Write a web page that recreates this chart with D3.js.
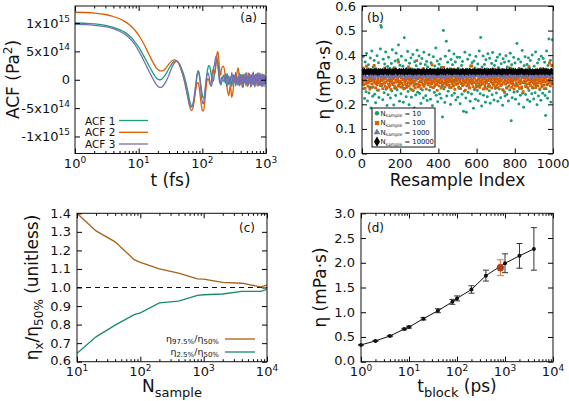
<!DOCTYPE html>
<html><head><meta charset="utf-8">
<script src="https://cdn.jsdelivr.net/npm/d3@7"></script>
<style>body{margin:0;background:#fff}svg{display:block}text{font-family:"DejaVu Sans",sans-serif;fill:#111}</style>
</head><body><svg width="569" height="401"></svg>
<script>
// ---------- Panel (a): ACF (units of 1e14 Pa^2) ----------
const acfT = [1,1.5,2,3,4,5,6,7,8,9,10,11,12,13,14,15,16,17,18,19,20,21,22,23,24,26,28,30,32,34,36,38,40,42,44,46,48,50,
53,56,59,62,65,68,71,74,77,80,83,86,89,92,95,98,101,104,107,110,114,118,122,126,130,134,138,142,146,150,155,160,165,170,175,180,185,190,195,200,
215,230,245,260,275,290,305,320,335,350,365,380,395,410,425,440,455,470,485,500,515,530,545,560,575,590,605,620,635,650,665,680,695,710,725,740,755,770,785,800,815,830,845,860,875,890,905,920,935,950,965,980,995];
const acf1 = [10.0,9.95,9.85,9.6,9.25,8.85,8.4,7.85,7.2,6.45,5.75,5.0,4.2,3.5,2.8,2.15,1.6,1.1,0.65,0.3,0.1,0.0,0.0,0.1,0.3,0.8,1.4,2.0,2.55,2.95,3.2,3.3,3.25,3.05,2.7,2.25,1.75,1.2,
0.3,-0.8,-2.0,-3.2,-4.2,-4.7,-4.5,-3.6,-2.2,-0.6,0.9,1.6,1.2,0.2,-1.0,-2.1,-2.9,-3.2,-3.1,-2.3,-0.6,1.0,2.0,2.5,2.4,1.8,0.9,0.1,-0.3,-0.1,0.9,2.2,3.2,3.6,3.2,2.0,0.6,-0.5,-0.9,-0.6,
0.8,-0.6,1.1,-0.9,0.5,-1.2,0.9,-0.4,1.3,-0.8,0.6,-1.1,1.0,-0.5,0.9,-1.3,0.7,-0.6,1.2,-0.9,0.4,-1.0,1.1,-0.7,0.8,-1.2,0.5,-0.6,1.4,-0.8,0.7,-1.0,0.9,-0.3,1.1,-1.1,0.6,-0.7,1.2,-0.9,0.3,-1.0,0.8,-0.5,1.0,-1.2,0.7,-0.4,0.9,-0.8,0.5,-0.6,0.2];
const acf2 = [11.9,11.85,11.75,11.5,11.15,10.75,10.3,9.8,9.2,8.55,7.85,7.1,6.35,5.6,4.85,4.15,3.5,2.95,2.45,2.05,1.8,1.65,1.55,1.55,1.6,1.9,2.35,2.8,3.15,3.4,3.5,3.45,3.3,3.0,2.5,1.9,1.3,0.6,
-0.5,-1.8,-3.1,-4.3,-5.1,-5.4,-5.0,-3.9,-2.5,-1.3,-0.6,-0.5,-1.2,-2.5,-3.9,-5.0,-5.5,-5.5,-4.8,-3.5,-1.6,-0.3,0.2,0.0,-0.6,-0.9,-0.4,0.8,1.7,1.8,1.0,1.5,3.2,4.6,5.0,4.0,2.2,0.8,0.9,2.0,
2.4,0.6,-1.5,-2.8,-1.0,-3.1,-1.8,0.5,-0.7,1.2,2.1,0.8,-0.9,0.6,-1.2,1.0,-0.5,0.9,-1.1,0.4,-0.8,1.2,-0.6,0.7,-1.3,0.9,-0.4,1.1,-0.9,0.5,-0.7,1.0,-1.1,0.6,-0.5,1.2,-0.8,0.3,-1.0,0.9,-0.6,0.8,-1.2,0.4,-0.5,1.0,-0.9,0.7,-0.3,0.6,-0.8,0.4,-0.1];
const acf3 = [9.75,9.7,9.6,9.35,9.0,8.55,8.05,7.45,6.75,5.95,5.1,4.25,3.4,2.6,1.85,1.2,0.6,0.05,-0.45,-0.85,-1.15,-1.3,-1.35,-1.3,-1.1,-0.6,0.1,0.9,1.7,2.4,2.9,3.2,3.25,3.0,2.6,2.0,1.4,0.7,
-0.4,-1.6,-2.9,-4.0,-4.7,-4.8,-4.3,-3.2,-1.7,-0.2,1.0,1.5,1.0,-0.3,-1.9,-3.3,-4.1,-4.2,-3.4,-2.0,-0.3,0.8,1.2,0.9,0.0,-0.8,-1.2,-0.7,0.6,2.0,2.6,3.7,4.2,3.8,2.5,1.0,-0.2,-0.6,-0.2,0.5,
-0.3,1.0,-1.2,0.7,-0.9,1.3,-0.6,0.8,-1.1,0.5,-1.0,1.2,-0.7,0.9,-1.4,0.6,-0.5,1.1,-0.8,1.3,-1.2,0.7,-0.6,1.0,-1.0,0.4,-0.9,1.2,-0.5,0.8,-1.3,0.9,-0.4,1.0,-0.8,0.6,-1.1,1.2,-0.6,0.5,-0.9,1.1,-0.7,0.8,-1.0,0.6,-0.5,0.9,-1.2,0.7,-0.4,0.5,0.1];
const acfNames = ["ACF 1","ACF 2","ACF 3"];
const acfColors = ["#1b9e77","#d95f02","#7570b3"];

// ---------- Panel (b): resampled viscosity (mPa·s x 1000) ----------
const etaN10 = `342 281 395 263 318 224 372 296 251 407 336 214 289 361 246 330 270 388 185 305
417 268 233 352 299 378 241 322 206 345 284 398 257 313 369 228 291 340 425 521
514 276 335 219 383 302 247 364 288 413 261 327 195 354 239 392 310 272 346 226
301 366 254 422 283 318 197 349 265 376 236 408 292 258 337 381 441 274 213 359
287 243 396 323 269 355 208 331 471 264 304 379 231 346 277 415 252 321 198 367
311 262 389 229 344 296 403 255 328 185 373 282 238 357 306 420 249 334 272 397
244 318 365 203 293 386 258 340 226 412 279 315 361 235 298 374 216 352 287 331
402 257 306 221 369 285 340 194 327 394 268 248 356 303 429 237 281 376 211 345
296 363 242 317 384 225 351 273 148 339 500 262 315 207 396 289 457 234 328 371
253 309 418 267 345 199 382 294 236 361 277 324 405 245 298 372 218 336 283 392
229 347 312 264 391 202 323 285 358 241 374 308 172 337 253 412 290 226 168 343
305 383 248 319 266 401 213 356 288 242 369 297 331 184 376 259 348 221 395 271
338 256 364 215 301 417 279 243 472 325 193 352 286 397 237 314 362 268 208 381
293 344 231 406 273 319 255 387 204 341 298 366 239 411 282 327 218 358 301 264
377 246 325 392 213 349 288 262 403 308 227 365 281 342 196 385 255 318 371 234
316 398 267 240 352 289 214 375 336 258 408 295 133 361 227 344 283 391 249 309
368 221 331 278 447 252 315 383 201 346 293 237 372 310 264 419 245 329 188 357
286 394 240 333 271 362 219 305 389 256 348 212 378 297 326 243 401 265 339 222
355 299 247 413 276 321 198 368 287 234 382 311 259 345 217 396 272 330 245 386
304 263 371 236 155 343 417 279 225 358 294 466 251 322 378 209 340 285 463 327`;
const etaN100 = `302 288 347 279 311 296 265 318 284 355 293 307 274 326 289 301 262 314 341 297
283 309 271 322 295 358 286 304 267 316 292 279 337 301 258 313 287 325 276 299
310 281 296 264 329 303 285 348 273 306 291 319 268 297 312 282 335 277 300 289
261 315 294 327 280 305 343 287 272 311 298 266 321 290 304 276 372 293 284 317
295 270 308 286 323 278 301 263 339 292 313 281 297 269 326 305 288 352 274 300
306 283 291 318 259 302 287 331 275 310 294 267 314 299 378 282 305 271 320 289
277 309 296 264 325 290 303 281 345 273 311 297 286 318 262 304 292 333 279 301
315 287 299 272 307 284 361 294 268 312 289 303 276 324 295 282 309 257 317 291
298 275 313 288 302 266 329 293 280 306 350 285 311 271 297 319 283 304 278 296
289 312 277 301 294 323 268 307 285 342 299 274 315 290 261 308 281 326 295 303
283 305 270 318 292 299 264 314 287 337 276 303 296 281 321 289 258 310 298 275
309 286 328 279 297 267 313 291 304 356 284 299 272 316 288 306 263 320 294 281
296 318 274 303 287 341 269 308 293 279 312 298 285 327 262 305 291 277 315 300
288 263 311 297 320 281 305 273 331 292 299 267 309 286 344 278 302 290 316 271
304 292 279 317 268 301 285 336 294 310 276 298 322 283 260 307 291 314 249 297
282 310 295 266 325 288 303 274 313 297 348 285 305 269 319 293 280 300 262 311
299 274 314 287 302 330 276 306 291 265 318 284 297 340 271 309 288 252 315 294
306 289 273 321 296 282 310 267 301 353 285 298 277 316 292 304 270 326 288 299
281 312 294 268 307 285 339 299 275 317 290 303 263 322 297 284 310 276 345 293
301 278 319 290 306 264 313 296 282 334 299 287 368 305 275 318 291 358 284 309`;
const etaN1000 = `321 314 327 318 309 325 331 316 322 312 328 319 307 324 333 317 320 311 326 315
323 318 310 329 316 321 334 313 325 308 319 327 315 322 312 330 317 324 311 320
326 313 319 332 317 309 323 328 314 321 316 331 310 325 318 322 307 329 315 324
318 327 312 320 333 316 324 311 319 328 314 322 306 326 317 321 330 313 323 316
320 311 328 315 322 309 326 319 313 331 317 324 312 320 327 314 318 335 316 323
314 325 318 308 322 329 316 321 312 327 319 315 332 310 324 317 322 313 328 319
327 316 321 313 330 318 310 324 317 322 314 328 319 311 325 320 316 333 312 321
312 323 317 326 314 320 331 315 322 309 328 318 324 313 319 327 316 321 310 325
319 328 313 321 316 325 311 323 318 330 314 320 327 312 322 317 324 309 326 315
322 315 326 311 320 332 317 313 324 319 328 312 321 316 329 314 323 318 310 325`;
const etaN10000 = `333 331 336 330 334 332 337 329 335 333 331 334 330 336 332 333 328 335 331 334
332 335 330 333 337 331 334 329 336 332 333 330 335 331 334 338 332 330 333 336
331 334 332 336 329 333 335 330 334 332 337 331 333 329 335 332 334 330 336 333
334 330 333 331 336 332 329 335 333 331 334 337 330 333 332 335 331 334 329 336
330 333 335 332 334 331 336 330 333 337 332 334 331 335 329 333 336 332 334 331
335 332 330 334 331 336 333 329 335 332 334 330 337 333 331 334 332 336 330 333
332 336 331 333 335 330 334 332 337 331 333 329 335 332 334 330 336 333 331 335
333 330 334 336 331 333 329 335 332 334 331 336 330 333 337 332 334 331 335 332
336 331 333 330 335 332 334 337 331 333 330 335 332 334 329 336 333 331 334 330
331 334 332 335 330 333 336 331 334 332 337 330 333 335 331 334 329 333 336 332`;
const resampleLabels = ["10","100","1000","10000"];
const resampleColors = ["#1b9e77","#d95f02","#7570b3","#000000"];

// ---------- Panel (c): percentile ratios ----------
const nSample = [10,20,40,80,100,200,400,800,1000,2000,4000,8000,10000];
const ratioHi = [1.40,1.305,1.246,1.15,1.136,1.10,1.077,1.046,1.045,1.028,1.023,1.003,1.013];
const ratioLo = [0.645,0.734,0.797,0.854,0.863,0.917,0.926,0.958,0.961,0.965,0.979,0.979,0.99];

// ---------- Panel (d): block averaging ----------
const tBlock = [1,2,4,8,10,20,40,80,100,200,400,1000,2000,4000];
const etaBlock = [0.34,0.42,0.52,0.66,0.70,0.87,1.03,1.21,1.28,1.46,1.74,1.99,2.14,2.28];
const etaErr = [0.005,0.01,0.012,0.015,0.02,0.025,0.04,0.05,0.05,0.075,0.11,0.19,0.25,0.43];
const tBest = [800], etaBest = [1.90], errBest = [0.16];

// ======================================================
const svg = d3.select("svg");
const parse = s => s.trim().split(/\s+/).map(v => +v / 1000);

function drawAxes(x, y, xMaj, xMin, yMaj, yMin) {
  const [x0, x1] = x.range(), [y1, y0] = y.range();
  const g = svg.append("g");
  const mk = (axis, tr) => g.append("g").attr("transform", tr).call(axis).call(s => s.select(".domain").remove());
  const sets = [[xMaj, 5, yMaj], [xMin, 2.5, yMin]];
  sets.forEach(([xv, sz, yv]) => {
    if (xv) {
      mk(d3.axisBottom(x).tickValues(xv).tickSize(-sz).tickFormat(""), `translate(0,${y1})`);
      mk(d3.axisTop(x).tickValues(xv).tickSize(-sz).tickFormat(""), `translate(0,${y0})`);
    }
    if (yv) {
      mk(d3.axisLeft(y).tickValues(yv).tickSize(-sz).tickFormat(""), `translate(${x0},0)`);
      mk(d3.axisRight(y).tickValues(yv).tickSize(-sz).tickFormat(""), `translate(${x1},0)`);
    }
  });
  g.append("rect").attr("x", x0).attr("y", y0).attr("width", x1 - x0).attr("height", y1 - y0)
    .attr("fill", "none").attr("stroke", "#111").attr("stroke-width", 1);
}
function tickText(xp, yp, anchor, base, sup) {
  const t = svg.append("text").attr("x", xp).attr("y", yp).attr("text-anchor", anchor).attr("font-size", 13);
  t.append("tspan").text(base);
  if (sup) t.append("tspan").attr("dy", -5.5).attr("font-size", 9).text(sup);
}
function logMinor(lo, hi) { const a = []; for (let e = lo; e < hi; e++) for (let m = 2; m <= 9; m++) a.push(m * 10 ** e); return a; }
function clip(id, x, y) {
  const [x0, x1] = x.range(), [y1, y0] = y.range();
  svg.append("clipPath").attr("id", id).append("rect").attr("x", x0).attr("y", y0).attr("width", x1 - x0).attr("height", y1 - y0);
}
function rotTitle(xp, yp, parts) {
  const t = svg.append("text").attr("transform", `translate(${xp},${yp}) rotate(-90)`).attr("text-anchor", "middle").attr("font-size", 17);
  parts.forEach(p => { const s = t.append("tspan").text(p.t); if (p.dy) s.attr("dy", p.dy); if (p.fs) s.attr("font-size", p.fs); });
}
function title(xp, yp, parts) {
  const t = svg.append("text").attr("x", xp).attr("y", yp).attr("text-anchor", "middle").attr("font-size", 17);
  parts.forEach(p => { const s = t.append("tspan").text(p.t); if (p.dy) s.attr("dy", p.dy); if (p.fs) s.attr("font-size", p.fs); });
}

// ---------------- Panel (a) ----------------
{
  const x = d3.scaleLog().domain([1, 1000]).range([75, 266]);
  const y = d3.scaleLinear().domain([-1.3e15, 1.3e15]).range([153.5, 6]);
  clip("clipA", x, y);
  const line = d3.line().x((d, i) => x(acfT[i])).y(d => y(d * 1e14)).curve(d3.curveMonotoneX);
  const gl = svg.append("g").attr("clip-path", "url(#clipA)");
  [acf1, acf2, acf3].forEach((s, k) => gl.append("path").datum(s).attr("d", line)
    .attr("fill", "none").attr("stroke", acfColors[k]).attr("stroke-width", 1.3));
  drawAxes(x, y, [1, 10, 100, 1000], logMinor(0, 3), [-1e15, -5e14, 0, 5e14, 1e15], null);
  [[1e15, "1x10", "15"], [5e14, "5x10", "14"], [0, "0", ""], [-5e14, "-5x10", "14"], [-1e15, "-1x10", "15"]]
    .forEach(([v, b, s]) => tickText(x.range()[0] - 5, y(v) + 4.5, "end", b, s));
  [[1, "0"], [10, "1"], [100, "2"], [1000, "3"]].forEach(([v, s]) => tickText(x(v), 168, "middle", "10", s));
  title(170.5, 186, [{t: "t (fs)"}]);
  rotTitle(19, 79.5, [{t: "ACF (Pa"}, {t: "2", dy: -7, fs: 12}, {t: ")", dy: 7}]);
  svg.append("text").attr("x", 257).attr("y", 22).attr("text-anchor", "end").attr("font-size", 12).text("(a)");
  const ly = [120.5, 132.3, 144];
  acfNames.forEach((n, k) => {
    svg.append("text").attr("x", 85).attr("y", ly[k] + 4).attr("font-size", 10.5).text(n);
    svg.append("line").attr("x1", 119).attr("x2", 148).attr("y1", ly[k]).attr("y2", ly[k])
      .attr("stroke", acfColors[k]).attr("stroke-width", 1.3);
  });
}

// ---------------- Panel (b) ----------------
{
  const x = d3.scaleLinear().domain([0, 1000]).range([362, 553]);
  const y = d3.scaleLinear().domain([0, 0.6]).range([153.5, 6]);
  clip("clipB", x, y);
  const g = svg.append("g").attr("clip-path", "url(#clipB)");
  const series = [etaN10, etaN100, etaN1000, etaN10000].map(parse);
  const shapes = [d3.symbolCircle, d3.symbolSquare, d3.symbolTriangle, d3.symbolDiamond];
  const sizes = [7, 8, 9, 14];
  series.forEach((vals, k) => {
    const n = vals.length;
    g.selectAll(null).data(vals).enter().append("path")
      .attr("transform", (d, i) => `translate(${x((i + 0.5) * 1000 / n)},${y(d)})`)
      .attr("d", d3.symbol().type(shapes[k]).size(sizes[k]))
      .attr("fill", resampleColors[k]);
  });
  drawAxes(x, y, [0, 200, 400, 600, 800, 1000], null, [0, 0.1, 0.2, 0.3, 0.4, 0.5, 0.6], null);
  [0, 0.1, 0.2, 0.3, 0.4, 0.5, 0.6].forEach(v => tickText(356, y(v) + 4.5, "end", v.toFixed(1)));
  [0, 200, 400, 600, 800, 1000].forEach(v => tickText(x(v), 168, "middle", String(v)));
  title(457.5, 186, [{t: "Resample Index"}]);
  rotTitle(330, 79.5, [{t: "η (mPa·s)"}]);
  svg.append("text").attr("x", 367).attr("y", 22).attr("font-size", 12).text("(b)");
  svg.append("rect").attr("x", 372).attr("y", 108).attr("width", 63).attr("height", 39)
    .attr("fill", "#fff").attr("stroke", "#111").attr("stroke-width", 1);
  const ry = [113.3, 123, 132.3, 141.7];
  resampleLabels.forEach((lab, k) => {
    svg.append("path").attr("transform", `translate(377,${ry[k]})`)
      .attr("d", d3.symbol().type(shapes[k]).size(sizes[k] * 2.2)).attr("fill", resampleColors[k]);
    const t = svg.append("text").attr("x", 380.5).attr("y", ry[k] + 2.3).attr("font-size", 6.8);
    t.append("tspan").text("N");
    t.append("tspan").attr("font-size", 4.6).attr("dy", 1.5).text("sample");
    t.append("tspan").attr("dy", -1.5).text(" = " + lab);
  });
}

// ---------------- Panel (c) ----------------
{
  const x = d3.scaleLog().domain([10, 1e4]).range([77, 267]);
  const y = d3.scaleLinear().domain([0.6, 1.4]).range([361.7, 213.3]);
  clip("clipC", x, y);
  const g = svg.append("g").attr("clip-path", "url(#clipC)");
  g.append("line").attr("x1", x(10)).attr("x2", x(1e4)).attr("y1", y(1)).attr("y2", y(1))
    .attr("stroke", "#111").attr("stroke-width", 1.1).attr("stroke-dasharray", "5,4");
  const line = d3.line().x((d, i) => x(nSample[i])).y(d => y(d));
  g.append("path").datum(ratioHi).attr("d", line).attr("fill", "none").attr("stroke", "#a6611a").attr("stroke-width", 1.3);
  g.append("path").datum(ratioLo).attr("d", line).attr("fill", "none").attr("stroke", "#1a8a6e").attr("stroke-width", 1.3);
  const yt = [0.6, 0.7, 0.8, 0.9, 1.0, 1.1, 1.2, 1.3, 1.4];
  drawAxes(x, y, [10, 100, 1000, 1e4], logMinor(1, 4), yt, null);
  yt.forEach(v => tickText(71, y(v) + (v === 0.6 ? 3.5 : 4.5), "end", v.toFixed(1)));
  [[10, "1"], [100, "2"], [1000, "3"], [1e4, "4"]].forEach(([v, s]) => tickText(x(v), 376, "middle", "10", s));
  title(172, 392, [{t: "N"}, {t: "sample", dy: 5, fs: 13}]);
  rotTitle(38, 287.5, [{t: "η"}, {t: "x", dy: 5, fs: 12}, {t: "/η", dy: -5}, {t: "50%", dy: 5, fs: 12}, {t: " (unitless)", dy: -5}]);
  svg.append("text").attr("x", 255).attr("y", 232).attr("text-anchor", "end").attr("font-size", 12).text("(c)");
  const leg = [["97.5%", "#a6611a", 339], ["2.5%", "#1a8a6e", 352]];
  leg.forEach(([p, c, ly]) => {
    const t = svg.append("text").attr("x", 219).attr("y", ly + 3).attr("text-anchor", "end").attr("font-size", 9.5);
    t.append("tspan").text("η");
    t.append("tspan").attr("font-size", 7).attr("dy", 2).text(p);
    t.append("tspan").attr("dy", -2).text("/η");
    t.append("tspan").attr("font-size", 7).attr("dy", 2).text("50%");
    svg.append("line").attr("x1", 225).attr("x2", 255).attr("y1", ly).attr("y2", ly).attr("stroke", c).attr("stroke-width", 1.3);
  });
}

// ---------------- Panel (d) ----------------
{
  const x = d3.scaleLog().domain([1, 1e4]).range([361, 553]);
  const y = d3.scaleLinear().domain([0, 3]).range([361.7, 213.3]);
  const g = svg.append("g");
  g.append("path").datum(etaBlock).attr("d", d3.line().x((d, i) => x(tBlock[i])).y(d => y(d)))
    .attr("fill", "none").attr("stroke", "#111").attr("stroke-width", 1);
  const bars = (ts, vs, es, col, cw) => ts.forEach((t, i) => {
    const cx = x(t), lo = y(vs[i] - es[i]), hi = y(vs[i] + es[i]);
    g.append("line").attr("x1", cx).attr("x2", cx).attr("y1", lo).attr("y2", hi).attr("stroke", col).attr("stroke-width", 1);
    [lo, hi].forEach(yy => g.append("line").attr("x1", cx - cw).attr("x2", cx + cw).attr("y1", yy).attr("y2", yy).attr("stroke", col).attr("stroke-width", 1));
  });
  bars(tBlock, etaBlock, etaErr, "#333", 3);
  g.selectAll(null).data(etaBlock).enter().append("circle")
    .attr("cx", (d, i) => x(tBlock[i])).attr("cy", d => y(d)).attr("r", 2).attr("fill", "#111");
  bars(tBest, etaBest, errBest, "#f06a2a", 3.5);
  g.selectAll(null).data(etaBest).enter().append("circle")
    .attr("cx", (d, i) => x(tBest[i])).attr("cy", d => y(d)).attr("r", 3.6).attr("fill", "#b8391a");
  const yt = [0, 0.5, 1, 1.5, 2, 2.5, 3];
  drawAxes(x, y, [1, 10, 100, 1000, 1e4], logMinor(0, 4), yt, null);
  yt.forEach(v => tickText(355, y(v) + (v === 0 ? 3.5 : 4.5), "end", v.toFixed(1)));
  [[1, "0"], [10, "1"], [100, "2"], [1000, "3"], [1e4, "4"]].forEach(([v, s]) => tickText(x(v), 376, "middle", "10", s));
  title(457, 392, [{t: "t"}, {t: "block", dy: 5, fs: 13}, {t: " (ps)", dy: -5}]);
  rotTitle(326, 287.5, [{t: "η (mPa·s)"}]);
  svg.append("text").attr("x", 367).attr("y", 232).attr("font-size", 12).text("(d)");
}
</script></body></html>
